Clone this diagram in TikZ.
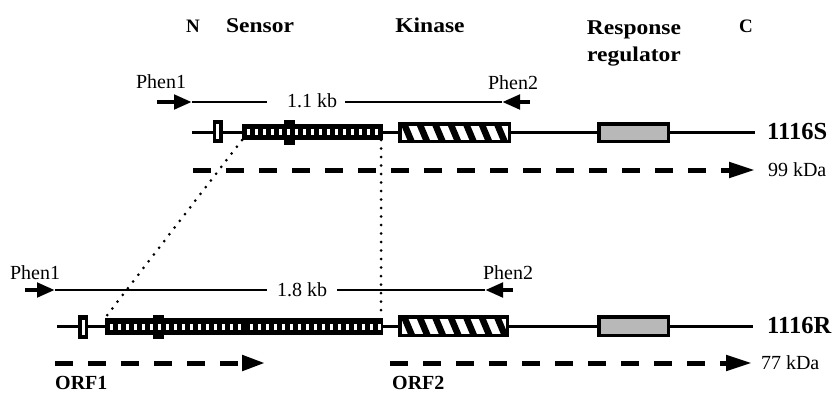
\documentclass[tikz,border=0pt]{standalone}
\usepackage{fontspec}
\setmainfont{Liberation Serif}
\newfontfamily\hdrfont[FakeStretch=1.12]{Liberation Serif}
\usetikzlibrary{arrows.meta,calc}
\begin{document}
\begin{tikzpicture}[x=1pt,y=-1pt,
  lbl/.style={inner sep=0pt, outer sep=0pt, font=\fontsize{20}{24}\selectfont},
  hdr/.style={inner sep=0pt, anchor=base, font=\hdrfont\bfseries\fontsize{21}{25}\selectfont},
  endhdr/.style={inner sep=0pt, anchor=base, font=\bfseries\fontsize{19}{23}\selectfont},
  glbl/.style={inner sep=0pt, anchor=west, font=\bfseries\fontsize{24.5}{28}\selectfont},
  orflbl/.style={inner sep=0pt, anchor=base west, font=\bfseries\fontsize{20}{24}\selectfont},
  gene/.style={line width=3pt},
  pcr/.style={line width=2pt},
  primer/.style={line width=4.5pt, -{Triangle[length=18pt,width=14pt]}},
  orf/.style={line width=5pt, dash pattern=on 18pt off 15pt, -{Triangle[length=26pt,width=15pt]}},
  dotline/.style={line width=3pt, line cap=round, dash pattern=on 0pt off 8.5pt},
  slitbox/.style={rectangle, fill=black, inner sep=0pt, outer sep=0pt, minimum width=10pt, minimum height=23pt,
    path picture={\fill[white] ($(path picture bounding box.center)+(-1.5,-7.5)$) rectangle ++(3,15);}},
  blk/.style={rectangle, fill=black, inner sep=0pt, outer sep=0pt, minimum width=11pt, minimum height=25pt},
  sensorbox/.style={rectangle, fill=black, inner sep=0pt, outer sep=0pt},
  kinbox/.style={rectangle, draw=black, line width=3.5pt, fill=white, inner sep=0pt, outer sep=0pt,
    path picture={\foreach \k in {0,...,8}{\draw[line width=6.5pt] ($(path picture bounding box.north west)+(3+15.5*\k,-3)$) -- ++(11,26);}}},
  rrbox/.style={rectangle, draw=black, line width=3.5pt, fill=black!28, inner sep=0pt, outer sep=0pt}
]
\useasboundingbox (0,0) rectangle (834,394);

% headers
\node[endhdr] (nN) at (193,32) {N};
\node[hdr] (nSensor) at (260,32) {Sensor};
\node[hdr] (nKinase) at (430,32) {Kinase};
\node[hdr] (nResp) at (634,34) {Response};
\node[hdr] (nReg) at (634,61) {regulator};
\node[endhdr] (nC) at (746,32) {C};

% upper PCR product
\node[lbl] (pu1) at (161,82) {Phen1};
\node[lbl] (pu2) at (513,83) {Phen2};
\node[lbl] (kb1) at (312,101) {1.1 kb};
\coordinate (u1a) at (157,102);
\coordinate (u1b) at (192,102);
\coordinate (u1c) at (267,102);
\coordinate (u2c) at (345,102);
\coordinate (u2b) at (502,102);
\coordinate (u2a) at (530,102);
\draw[pcr] (u1b) -- (u1c);
\draw[pcr] (u2c) -- (u2b);
\draw[primer] (u1a) -- (u1b);
\draw[primer] (u2a) -- (u2b);

% gene 1116S
\coordinate (sA) at (192,132);
\coordinate (sB) at (755,132);
\draw[gene] (sA) -- (sB);
\node[slitbox] (smS) at (217.5,131.5) {};
\node[blk] (blkS) at (289.5,132.5) {};
\node[sensorbox, minimum width=141pt, minimum height=16pt,
  path picture={\foreach \k in {0,...,16}{\fill[white] ($(path picture bounding box.west)+(5+8*\k,-3)$) rectangle ++(3,6);}}]
  (senS) at (312.5,132) {};
\node[kinbox, minimum width=109.5pt, minimum height=17.5pt] (kinS) at (454.5,132.5) {};
\node[rrbox, minimum width=69.5pt, minimum height=17.5pt] (rrS) at (633.5,132.5) {};
\node[glbl] (lS) at (767,132) {1116S};

% 99 kDa
\coordinate (dS) at (193,170);
\coordinate (dSe) at (755,170);
\draw[orf] (dS) -- (dSe);
\node[lbl, anchor=west] (k99) at (768,170) {99 kDa};

% lower PCR product
\node[lbl] (pl1) at (35,273) {Phen1};
\node[lbl] (pl2) at (508,273) {Phen2};
\node[lbl] (kb2) at (302,290) {1.8 kb};
\coordinate (l1a) at (25,290);
\coordinate (l1b) at (55,290);
\coordinate (l1c) at (267,290);
\coordinate (l2c) at (337,290);
\coordinate (l2b) at (485,290);
\coordinate (l2a) at (513,290);
\draw[pcr] (l1b) -- (l1c);
\draw[pcr] (l2c) -- (l2b);
\draw[primer] (l1a) -- (l1b);
\draw[primer] (l2a) -- (l2b);

% gene 1116R
\coordinate (rA) at (57,326);
\coordinate (rB) at (753,326);
\draw[gene] (rA) -- (rB);
\node[slitbox, minimum height=24pt] (smR) at (83,327) {};
\node[blk, minimum height=24pt] (blkR) at (158.5,327) {};
\node[sensorbox, minimum width=278pt, minimum height=17pt,
  path picture={\foreach \k in {0,...,16}{\fill[white] ($(path picture bounding box.west)+(5+8*\k,-3)$) rectangle ++(3,6);}
                \foreach \k in {0,...,16}{\fill[white] ($(path picture bounding box.west)+(145+8*\k,-3)$) rectangle ++(3,6);}}]
  (senR) at (244,326.5) {};
\node[kinbox, minimum width=107.5pt, minimum height=18.5pt] (kinR) at (453.5,326) {};
\node[rrbox, minimum width=69.5pt, minimum height=18.5pt] (rrR) at (633.5,326) {};
\node[glbl] (lR) at (767,326) {1116R};

% dotted correspondence lines
\draw[dotline] (senS.south west) -- (senR.north west);
\draw[dotline] ([xshift=-2pt]senS.south east) -- ([xshift=-2pt]senR.north east);

% ORFs
\coordinate (o1a) at (55,363);
\coordinate (o1b) at (265,363);
\coordinate (o2a) at (390,363);
\coordinate (o2b) at (752,363);
\draw[orf, -{Triangle[length=23pt,width=15pt]}] (o1a) -- (o1b);
\draw[orf] (o2a) -- (o2b);
\node[lbl, anchor=west] (k77) at (761,363) {77 kDa};
\node[orflbl] (orf1) at (55,389) {ORF1};
\node[orflbl] (orf2) at (392,389) {ORF2};
\end{tikzpicture}
\end{document}
